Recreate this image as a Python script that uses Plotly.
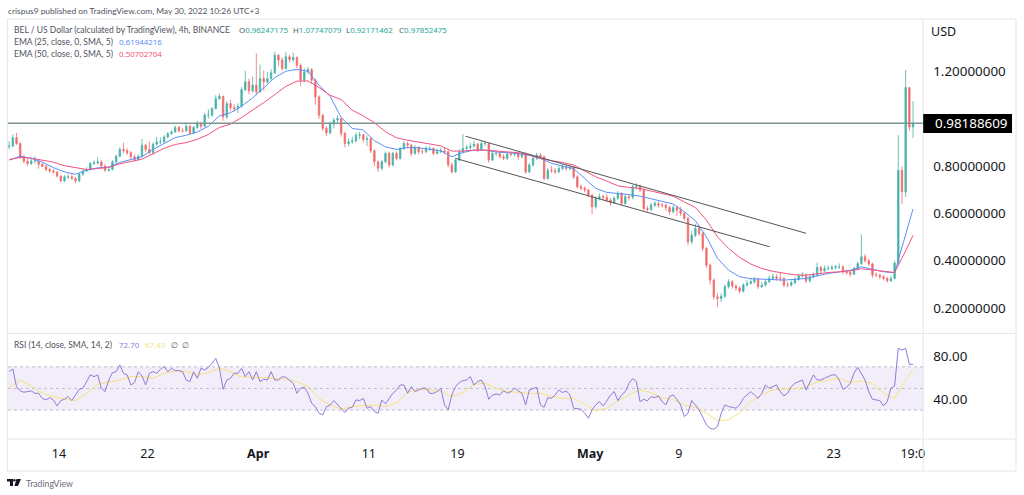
import pandas as pd
import plotly.graph_objects as go
from plotly.subplots import make_subplots

W = 1024
H = 495
FONT = "Noto Sans"
SMALL_FONT = "Lato"

# 8h candles
closes = [.885,.921,.896,.840,.821,.811,.822,.822,.808,.800,.786,.780,.775,.758,.738,.755,.755,.748,.738,.766,
          .780,.786,.811,.814,.818,.801,.783,.786,.818,.842,.871,.865,.857,.840,.828,.842,.889,.871,.857,.893,
          .903,.903,.924,.938,.945,.964,.950,.950,.969,.941,.964,.981,.969,1.016,1.016,1.044,1.086,1.096,1.009,1.065,
          1.048,1.044,1.054,1.124,1.157,1.119,1.143,1.114,1.171,1.157,1.171,1.195,1.270,1.249,1.213,1.263,1.251,1.260,1.227,1.164,
          1.199,1.209,1.164,1.093,1.016,.960,.941,.978,.995,1.002,.939,.896,.903,.907,.931,.933,.913,.917,.865,.819,
          .791,.819,.854,.805,.854,.833,.875,.896,.889,.854,.879,.861,.861,.875,.875,.854,.861,.865,.861,.805,
          .776,.826,.861,.875,.879,.885,.893,.871,.896,.896,.826,.854,.854,.840,.833,.851,.850,.854,.840,.851,
          .776,.805,.833,.847,.840,.748,.783,.781,.776,.790,.798,.790,.795,.755,.713,.706,.699,.678,.628,.664,
          .671,.668,.657,.645,.664,.685,.642,.671,.668,.713,.716,.699,.621,.617,.635,.642,.635,.635,.625,.607,
          .625,.614,.600,.579,.480,.508,.536,.515,.452,.381,.318,.247,.240,.250,.290,.311,.293,.285,.271,.297,
          .304,.311,.321,.290,.297,.311,.325,.332,.325,.325,.297,.297,.307,.321,.335,.339,.315,.332,.339,.371,
          .357,.367,.367,.371,.374,.374,.353,.350,.343,.367,.388,.417,.400,.386,.339,.339,.332,.325,.315,.325,
          .390,.783,.692,1.133,.966,.979]
highs = [.905,.935,.941,.900,.848,.832,.835,.842,.830,.815,.806,.792,.788,.780,.762,.762,.768,.768,.755,.772,
         .786,.795,.818,.825,.838,.825,.808,.800,.826,.848,.880,.900,.875,.865,.850,.850,.915,.895,.905,.900,
         .925,.922,.932,.945,.952,.972,.970,.962,.982,.975,.970,.992,.988,1.026,1.040,1.050,1.100,1.107,1.098,1.075,
         1.080,1.062,1.066,1.135,1.205,1.170,1.180,1.277,1.230,1.205,1.200,1.210,1.284,1.275,1.260,1.284,1.272,1.280,1.265,1.235,
         1.215,1.220,1.215,1.170,1.100,1.020,.970,.990,1.005,1.015,1.005,.945,.918,.925,.942,.945,.938,.930,.922,.872,
         .825,.826,.862,.862,.860,.862,.882,.905,.905,.895,.888,.885,.875,.885,.886,.880,.875,.878,.880,.868,
         .815,.834,.870,.936,.890,.900,.908,.900,.905,.908,.900,.862,.868,.862,.850,.858,.862,.862,.860,.858,
         .858,.815,.845,.856,.856,.845,.792,.800,.792,.802,.808,.806,.805,.800,.762,.722,.715,.705,.682,.672,
         .685,.680,.682,.665,.672,.694,.690,.680,.682,.722,.728,.722,.705,.632,.645,.652,.650,.645,.642,.632,
         .635,.632,.628,.606,.585,.525,.555,.548,.522,.458,.388,.325,.262,.262,.300,.322,.318,.300,.292,.305,
         .318,.325,.332,.328,.310,.322,.338,.345,.342,.352,.330,.310,.316,.330,.345,.352,.345,.340,.350,.392,
         .378,.380,.380,.382,.382,.388,.380,.362,.358,.375,.395,.512,.428,.408,.392,.350,.345,.340,.332,.335,
         .400,.931,.800,1.207,1.133,1.075]
lows = [.872,.880,.890,.830,.812,.800,.805,.812,.790,.795,.778,.772,.768,.752,.733,.733,.745,.742,.728,.733,
        .760,.775,.782,.805,.808,.795,.775,.776,.782,.812,.838,.855,.848,.830,.820,.822,.838,.860,.850,.850,
        .888,.893,.898,.918,.932,.940,.942,.942,.945,.932,.935,.958,.958,.965,1.002,1.010,1.040,1.080,.992,1.000,
        1.035,1.030,1.025,1.048,1.118,1.105,1.112,1.100,1.110,1.120,1.150,1.165,1.190,1.225,1.205,1.210,1.238,1.240,1.215,1.140,
        1.155,1.190,1.150,1.060,1.000,.950,.927,.935,.960,.985,.925,.880,.885,.895,.900,.915,.900,.885,.855,.800,
        .776,.782,.812,.795,.800,.825,.828,.868,.875,.842,.848,.850,.852,.855,.865,.846,.850,.855,.850,.795,
        .770,.772,.820,.855,.868,.870,.878,.860,.865,.885,.815,.820,.842,.832,.825,.826,.840,.842,.825,.834,
        .768,.770,.798,.826,.832,.740,.742,.772,.768,.770,.782,.780,.782,.745,.705,.698,.690,.668,.597,.620,
        .655,.655,.648,.632,.640,.658,.635,.638,.655,.660,.700,.690,.612,.608,.610,.628,.625,.625,.612,.595,
        .600,.590,.590,.570,.465,.470,.500,.505,.440,.370,.300,.235,.205,.225,.242,.282,.282,.272,.262,.265,
        .290,.298,.302,.280,.285,.290,.305,.318,.315,.312,.288,.288,.290,.300,.315,.328,.305,.308,.325,.332,
        .345,.352,.358,.360,.362,.365,.342,.340,.332,.340,.360,.382,.392,.378,.328,.330,.322,.316,.308,.310,
        .320,.380,.640,.670,.950,.920]

# daily samples of the moving averages, last value is the latest candle
ema25 = [.826,.842,.833,.817,.794,.776,.766,.783,.793,.796,.816,.828,.840,.871,.896,.921,.931,.945,.969,1.013,
         1.026,1.054,1.089,1.133,1.175,1.202,1.210,1.202,1.143,1.096,1.006,.960,.953,.908,.882,.871,.879,.878,.872,.865,
         .840,.858,.868,.868,.860,.858,.854,.846,.833,.812,.800,.790,.748,.706,.689,.685,.680,.673,.662,.654,
         .640,.607,.569,.501,.410,.360,.332,.324,.321,.319,.318,.321,.325,.336,.346,.352,.360,.374,.364,.353,
         .349,.515,.619]
ema50 = [.828,.837,.834,.827,.817,.802,.793,.786,.790,.795,.810,.821,.830,.852,.876,.892,.900,.914,.934,.964,
         .978,1.006,1.037,1.069,1.103,1.138,1.160,1.161,1.133,1.100,1.082,1.037,1.013,.984,.946,.920,.910,.903,.896,.886,
         .864,.864,.868,.868,.864,.860,.857,.847,.833,.823,.816,.805,.781,.755,.737,.717,.710,.706,.695,.685,
         .673,.649,.625,.572,.501,.452,.414,.386,.367,.355,.346,.340,.339,.345,.350,.353,.357,.366,.360,.355,
         .350,.442,.507]

rsi = [65.5,68,51.7,47.7,46.5,47.1,47.7,45.5,45.5,40.9,39.4,41.5,39.4,33.8,38.8,40,42.5,38.8,44,49.2,
       50.2,56.3,62.5,60.9,62.5,50.2,47.1,57.8,64.6,65.5,71.7,64,62.5,53.2,55.4,65.5,61.5,53.2,64,65.5,
       64,67.7,70.2,65.5,68.6,66.5,66.5,65.5,57.8,56.3,65.5,59.4,68.6,67.1,69.5,73.2,77.8,68.6,49.2,57.8,
       59.4,64,64,68.6,60.9,65.5,57.8,65.5,56.3,58.5,57.8,65.5,57.8,57.8,60.9,60.3,57.8,54.8,45.5,50.2,
       51.1,45.5,36.3,33.2,27.1,25.5,33.2,34.8,38.8,34.8,31.7,27.7,31.7,32.6,39.4,38.8,40.9,31.7,33.2,28.6,
       27.1,39.4,35.7,40.9,45.5,48.6,53.2,53.2,45.5,51.7,47.1,48.6,50.2,50.2,45.5,45.5,47.1,50.2,34.8,30.2,
       44,51.7,55.4,57.2,57.8,60.9,53.2,56.3,57.8,51.7,40,44,44.9,44,48,45.5,
       47.1,50.2,47.7,45.5,34.8,48.6,49.8,51.1,34.8,32.6,41.5,40.9,44,48.6,46.2,47.7,44,31.7,31.4,30.8,
       27.1,22.5,30.2,34.8,37.8,33.8,38.5,44,47.1,38.8,44,47.1,54.8,59.1,56.3,37.8,40,38.5,42.5,41.5,
       43.1,37.8,34.8,42.5,44,40,34.8,24,27.1,38.8,34.8,30.2,23.4,16.3,13.2,12.3,14.8,27.1,34.8,33.2,
       32.6,31.7,34.8,40.9,44,47.1,44,40.9,45.5,53.2,50.2,51.7,53.2,47.1,43.1,45.5,51.7,54.8,56.3,57.8,
       48.6,55.4,62.5,57.8,57.8,59.4,60.9,62.5,62.5,57.8,49.2,51.1,54.8,64,69.5,64,57.8,47.1,40,39.4,
       38.8,33.8,37.8,50.2,52.3,87.1,85.5,87.1,72.3,72.3]
rsi_ma = [51.1,57.8,52.3,45.5,42.5,40,38.8,45.5,53.8,55.7,57.8,60.9,60.9,59.4,64,66.2,65.5,62.5,64.6,68.6,
          65.5,60.6,60.6,60,59.1,58.8,56.3,51.7,40.9,34.5,31.1,33.2,34.2,34.5,33.2,36.9,46.5,49.2,48.6,47.1,
          42.5,46.2,53.8,54.8,50.2,47.1,46.5,45.5,45.5,42.5,40.9,40.9,35.7,29.2,31.7,38.5,44,48.6,46.2,41.5,
          40,34.8,32.6,27.1,20.3,20.9,27.7,37.8,44,48.6,49.5,49.5,51.7,55.7,57.8,59.4,55.7,56.9,54.8,45.5,
          40.9,57.8,67.43]

upper_line_x = ["2022-04-19 17:30", "2022-05-20 12:00"]
upper_line_y = [.927, .516]
lower_line_x = ["2022-04-18 20:00", "2022-05-17 05:00"]
lower_line_y = [.833, .459]

last_price = 0.98188609
price_ticks = [0.2, 0.4, 0.6, 0.8, 1.2]
rsi_ticks = [40, 80]
rsi_levels = [30, 50, 70]
time_ticks = ["2022-03-14", "2022-03-22", "2022-04-01", "2022-04-11", "2022-04-19",
              "2022-05-01", "2022-05-09", "2022-05-23", "2022-05-30 03:30"]
time_labels = ["14", "22", "<b>Apr</b>", "11", "19", "<b>May</b>", "9", "23", "19:0"]
ohlc_names = ["O", "H", "L", "C"]
ohlc_values = ["0.96247175", "1.07747079", "0.92171462", "0.97852475"]

dates = pd.date_range("2022-03-09 12:00", periods=len(closes), freq="8h")
opens = [closes[0]] + closes[:-1]
daily = list(pd.date_range("2022-03-09 12:00", periods=82, freq="24h")) + [dates[-1]]


def px_x(x):
    return x / W


def px_y(y):
    return 1 - y / H


fig = make_subplots(rows=2, cols=1, shared_xaxes=True)

fig.add_trace(go.Candlestick(x=dates, open=opens, high=highs, low=lows, close=closes,
                             increasing=dict(line=dict(color="#26a69a", width=0.8), fillcolor="#26a69a"),
                             decreasing=dict(line=dict(color="#ef5350", width=0.8), fillcolor="#ef5350"),
                             whiskerwidth=0, opacity=0.85), row=1, col=1)
fig.add_trace(go.Scatter(x=daily, y=ema25, mode="lines", line=dict(color="#5b8ff9", width=1)), row=1, col=1)
fig.add_trace(go.Scatter(x=daily, y=ema50, mode="lines", line=dict(color="#f2527d", width=1)), row=1, col=1)
fig.add_trace(go.Scatter(x=upper_line_x, y=upper_line_y, mode="lines", line=dict(color="#555555", width=1)), row=1, col=1)
fig.add_trace(go.Scatter(x=lower_line_x, y=lower_line_y, mode="lines", line=dict(color="#555555", width=1)), row=1, col=1)
fig.add_hline(y=last_price, line=dict(color="#7c9590", width=1.6), row=1, col=1)

fig.add_trace(go.Scatter(x=daily, y=rsi_ma, mode="lines", line=dict(color="#f5e27a", width=1)), row=2, col=1)
fig.add_trace(go.Scatter(x=dates, y=rsi, mode="lines", line=dict(color="#9478d6", width=1)), row=2, col=1)
fig.add_hrect(y0=rsi_levels[0], y1=rsi_levels[2], fillcolor="#7e57c2", opacity=0.1, line_width=0, layer="below", row=2, col=1)
for lvl in rsi_levels:
    fig.add_hline(y=lvl, line=dict(color="#c2bfc9", width=1, dash="3px,3px"), layer="below", row=2, col=1)

x_range = ["2022-03-09 09:30", "2022-05-31 02:00"]
fig.update_xaxes(range=x_range, showgrid=False, zeroline=False, showline=False, rangeslider_visible=False)
fig.update_xaxes(showticklabels=False, ticks="", row=1, col=1)
fig.update_xaxes(tickmode="array", tickvals=time_ticks, ticktext=time_labels, ticks="", ticklabelstandoff=5,
                 tickfont=dict(family=FONT, size=12.5, color="#131722"), row=2, col=1)
fig.update_yaxes(side="right", showgrid=False, zeroline=False, showline=False, ticks="", ticklabelstandoff=9)
fig.update_yaxes(range=[0.094, 1.423], tickmode="array", tickvals=price_ticks,
                 ticktext=[f"{p:.8f}" for p in price_ticks],
                 tickfont=dict(family=FONT, size=13.4, color="#131722"), row=1, col=1)
fig.update_yaxes(range=[3.3, 100.3], tickmode="array", tickvals=rsi_ticks,
                 ticktext=[f"{r:.2f}" for r in rsi_ticks],
                 tickfont=dict(family=FONT, size=13.4, color="#131722"), row=2, col=1)

dom_x = [px_x(8), px_x(925)]
fig.update_layout(xaxis=dict(domain=dom_x), xaxis2=dict(domain=dom_x),
                  yaxis=dict(domain=[px_y(333), px_y(19)]),
                  yaxis2=dict(domain=[px_y(439), px_y(334)]))


def frame_line(x0, y0, x1, y1):
    fig.add_shape(type="line", xref="paper", yref="paper", x0=px_x(x0), y0=px_y(y0), x1=px_x(x1), y1=px_y(y1),
                  line=dict(color="#e6e7ea", width=1))


frame_line(7.5, 19, 1018, 19)
frame_line(7.5, 19, 7.5, 471)
frame_line(7.5, 471, 1018, 471)
frame_line(1018, 19, 1018, 471)
frame_line(925, 19, 925, 471)
frame_line(7.5, 333.5, 1018, 333.5)
frame_line(7.5, 439, 1018, 439)

# last price tag
fig.add_shape(type="rect", xref="paper", yref="paper", x0=px_x(925), x1=px_x(1014), y0=px_y(133), y1=px_y(114),
              fillcolor="#000000", line_width=0)

# small logo, bottom left
def logo_path():
    pts = [[(7, 479), (13, 479), (13, 486), (10, 486), (10, 481.5), (7, 481.5)],
           [(16.5, 479), (21, 479), (18, 486), (14.5, 486)]]
    out = ""
    for poly in pts:
        out += "M " + " L ".join(f"{px_x(a):.5f},{px_y(b):.5f}" for a, b in poly) + " Z "
    return out


fig.add_shape(type="path", xref="paper", yref="paper", path=logo_path(), fillcolor="#131722", line_width=0)
fig.add_shape(type="circle", xref="paper", yref="paper", x0=px_x(13.2), x1=px_x(15.6), y0=px_y(481.4), y1=px_y(479),
              fillcolor="#131722", line_width=0)


def label(x, y, text, size=9, color="#50535e", family=SMALL_FONT):
    fig.add_annotation(xref="paper", yref="paper", x=px_x(x), y=px_y(y), text=text, showarrow=False,
                       xanchor="left", yanchor="middle", align="left",
                       font=dict(family=family, size=size, color=color))


TEAL = "#26a69a"
label(6.5, 11, "crispus9 published on TradingView.com, May 30, 2022 10:26 UTC+3", size=8.4)
label(12.5, 30, "BEL / US Dollar (calculated by TradingView), 4h, BINANCE", size=8.5)
for name, val, x in zip(ohlc_names, ohlc_values, [237, 291.5, 344.5, 397.5]):
    label(x, 30, f"{name}<span style='color:{TEAL}'>{val}</span>", size=7.9, family=FONT)
label(12.5, 42, "EMA (25, close, 0, SMA, 5)", size=8.55)
label(117, 42, "0.61944216", size=7.9, color="#5b8ff9", family=FONT)
label(12.5, 54, "EMA (50, close, 0, SMA, 5)", size=8.55)
label(117, 54, "0.50702704", size=7.9, color="#f2527d", family=FONT)
label(12.5, 345, "RSI (14, close, SMA, 14, 2)", size=8.55)
label(117.5, 345, "72.70", size=7.9, color="#9478d6", family=FONT)
label(143, 345, "67.43", size=7.9, color="#f5e27a", family=FONT)
label(169, 345, "∅", size=7.9, family=FONT)
label(180, 345, "∅", size=7.9, family=FONT)
label(931, 31.5, "USD", size=12.5, color="#131722", family=FONT)
label(934.5, 123.5, "0.98188609", size=13.4, color="#ffffff", family=FONT)
label(24, 483, "TradingView", size=8.7, color="#6a6d78")

fig.update_layout(width=W, height=H, margin=dict(l=0, r=0, t=0, b=0), showlegend=False,
                  paper_bgcolor="white", plot_bgcolor="white", boxgap=0.45, hovermode=False)

fig.write_html("out.html", config=dict(displayModeBar=False), post_script="document.body.style.margin='0';")
